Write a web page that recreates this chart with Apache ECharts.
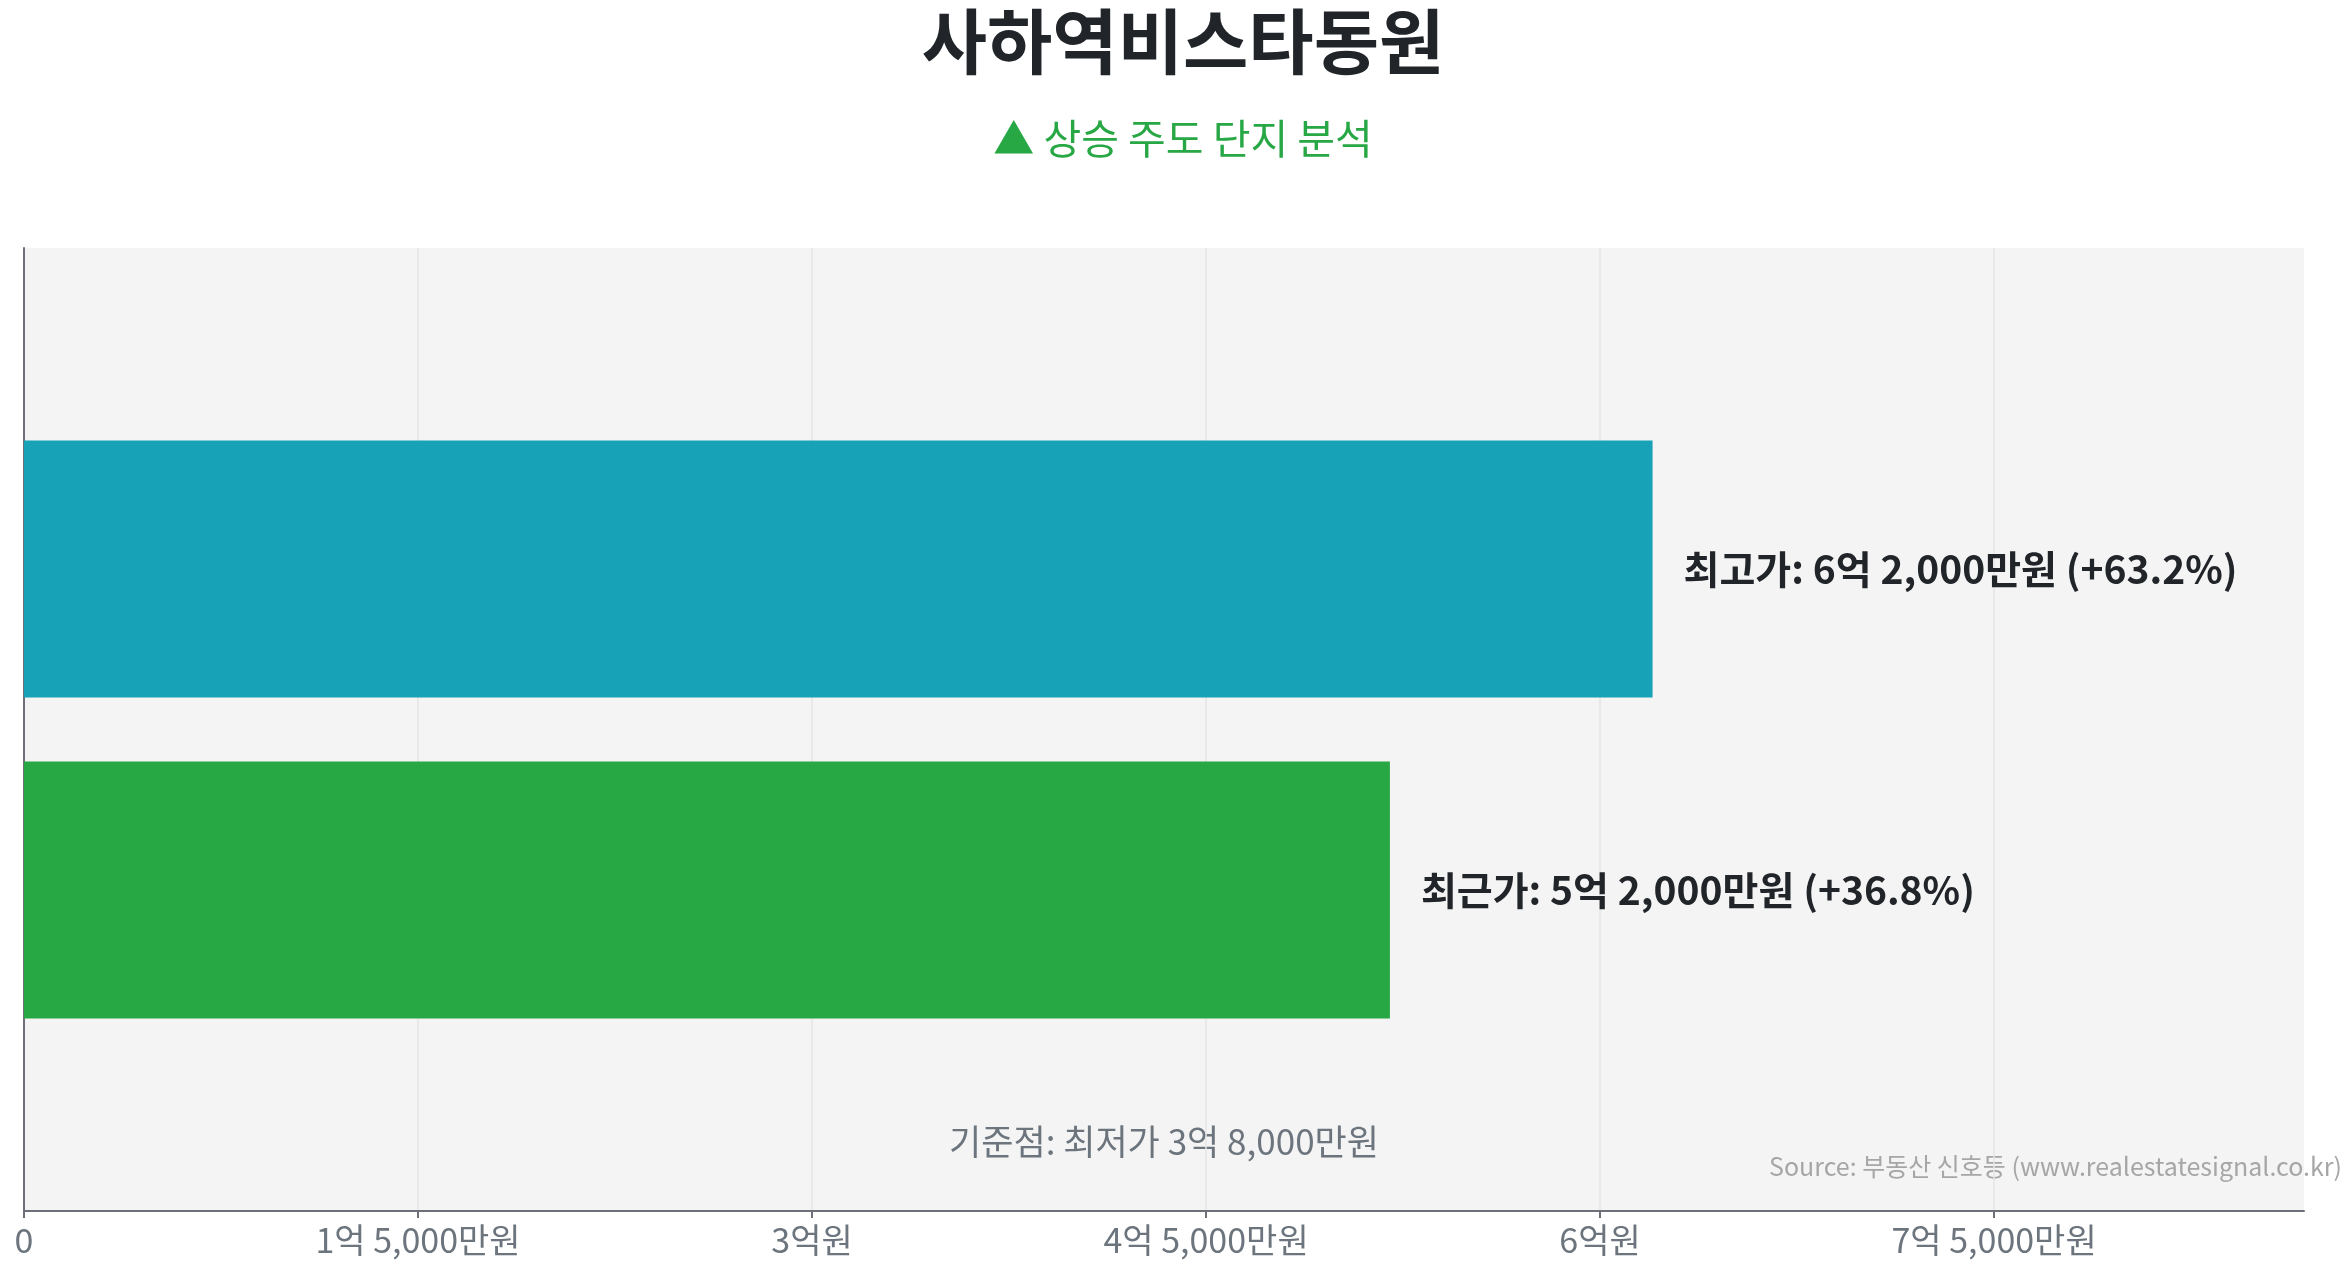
<!DOCTYPE html>
<html><head><meta charset="utf-8">
<script src="https://cdn.jsdelivr.net/npm/echarts@6/dist/echarts.min.js"></script>
<style>html,body{margin:0;padding:0;background:#fff}#c{width:2345px;height:1268px}</style>
</head><body><div id="c"></div>
<script>
// values in 만원
const categories = ['', '최근가', '최고가', ''];
const values = [null, 52000, 62000, null];
const changePct = [null, 36.8, 63.2, null];
const barColors = [null, '#28a745', '#17a2b8', null];
const baselineValue = 38000;
const baselineText = '기준점: 최저가 3억 8,000만원';
const tickValues = [0, 15000, 30000, 45000, 60000, 75000];
const tickLabels = ['0', '1억 5,000만원', '3억원', '4억 5,000만원', '6억원', '7억 5,000만원'];
const tickInterval = 15000;
const axisMax = 86800;
const titleText = '사하역비스타동원';
const subtitleText = '▲ 상승 주도 단지 분석';
const sourceText = 'Source: 부동산 신호등 (www.realestatesignal.co.kr)';

const FONT = '"Noto Sans CJK KR", "Noto Sans", sans-serif';
function fmtWon(v) {
  const eok = Math.floor(v / 10000);
  const man = v % 10000;
  let s = '';
  if (eok > 0) s += eok + '억';
  if (man > 0) s += (s ? ' ' : '') + man.toLocaleString('en-US') + '만원';
  else s += '원';
  return s;
}

const gridL = 24, gridR = 41, gridT = 248, gridB = 57, W = 2345;
const titleX = 1183;
const chart = echarts.init(document.getElementById('c'));
chart.setOption({
  backgroundColor: '#ffffff',
  textStyle: { fontFamily: FONT },
  grid: { left: gridL, right: gridR, top: gridT, bottom: gridB, show: true, backgroundColor: '#f4f4f4', borderWidth: 0 },
  xAxis: {
    type: 'value', min: 0, max: axisMax, interval: tickInterval,
    axisLine: { show: true, lineStyle: { color: '#6e7079', width: 2 } },
    axisTick: { show: true, length: 7, customValues: tickValues, lineStyle: { color: '#6e7079', width: 2 } },
    splitLine: { show: true, lineStyle: { color: '#e6e6e6', width: 1.5 } },
    axisLabel: { fontFamily: FONT, fontSize: 34, color: '#6c757d', margin: 12, customValues: tickValues,
      formatter: v => { const i = tickValues.indexOf(v); return i >= 0 ? tickLabels[i] : ''; } }
  },
  yAxis: {
    type: 'category', data: categories, boundaryGap: false,
    axisLine: { show: true, lineStyle: { color: '#6e7079', width: 2 } },
    axisTick: { show: false }, axisLabel: { show: false }, splitLine: { show: false }
  },
  series: [{
    type: 'bar',
    barWidth: '80%',
    data: values.map((v, i) => v == null ? null : { value: v, itemStyle: { color: barColors[i] } }),
    label: {
      show: true, position: 'right', distance: 31,
      fontFamily: FONT, fontSize: 39, fontWeight: 'bold', color: '#212529',
      formatter: p => categories[p.dataIndex] + ': ' + fmtWon(p.value) + ' (+' + changePct[p.dataIndex].toFixed(1) + '%)'
    },
    silent: true
  }],
  graphic: [
    { type: 'text', x: titleX, y: 41,
      style: { text: titleText, fontFamily: FONT, fontSize: 71, fontWeight: 'bold', fill: '#212529', align: 'center', verticalAlign: 'middle' } },
    { type: 'text', x: titleX, y: 138,
      style: { text: subtitleText, fontFamily: FONT, fontSize: 41, fill: '#28a745', align: 'center', verticalAlign: 'middle' } },
    { type: 'text', x: gridL + (W - gridL - gridR) / 2, y: 1142,
      style: { text: baselineText, fontFamily: FONT, fontSize: 35, fill: '#6c757d', align: 'center', verticalAlign: 'middle' } },
    { type: 'text', right: 3, top: 1154,
      style: { text: sourceText, fontFamily: FONT, fontSize: 25, fill: '#a6a6a6' } }
  ]
});
</script></body></html>
